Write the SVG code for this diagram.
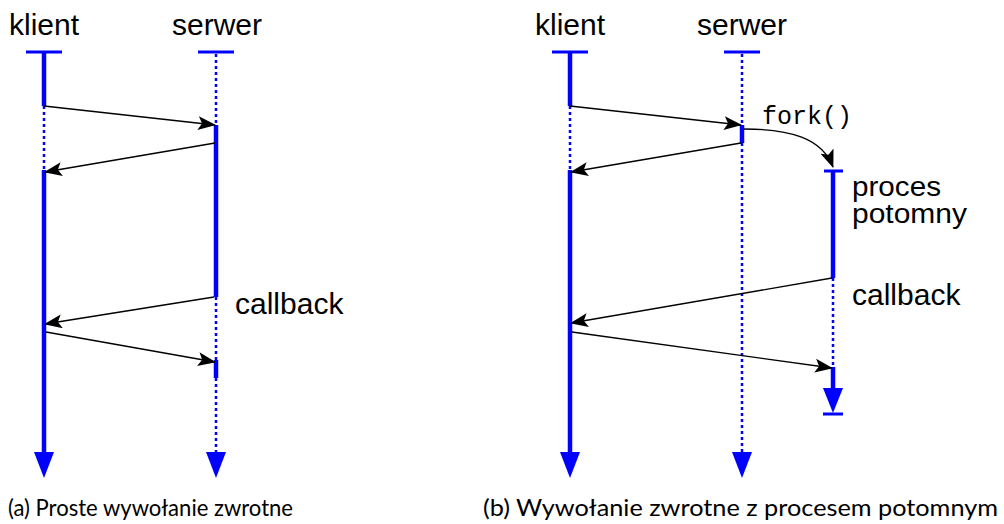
<svg xmlns="http://www.w3.org/2000/svg" width="1004" height="524" viewBox="0 0 1004 524">
<style>
.lbl{font-family:"Liberation Sans",Arial,sans-serif;font-size:30px;fill:#000}
.lbl2{font-family:"Liberation Sans",Arial,sans-serif;font-size:27.5px;fill:#000}
.mono{font-family:"Liberation Mono","Courier New",monospace;font-size:25px;fill:#000}
.cap{font-family:Lato,"Noto Sans",sans-serif;font-size:23px;fill:#000}
.solid{stroke:#0000ff;stroke-width:4.5;fill:none}
.dot{stroke:#0000ff;stroke-width:2.5;stroke-dasharray:3 3;fill:none}
.bar{stroke:#0000ff;stroke-width:3;fill:none}
.msg{stroke:#000;stroke-width:1.3;fill:none;marker-end:url(#ah)}
.head{fill:#0000ff}
</style>
<defs>
<marker id="ah" markerWidth="18" markerHeight="14" refX="17" refY="7" orient="auto" markerUnits="userSpaceOnUse">
<path d="M0,0 L18,7 L0,14 L4,7 Z" fill="#000"/>
</marker>
</defs>
<rect width="1004" height="524" fill="#fff"/>

<!-- Left diagram -->
<g id="a-klient">
<text class="lbl" x="9" y="35">klient</text>
<line class="bar" x1="26" y1="52" x2="62" y2="52"/>
<line class="solid" x1="44" y1="52" x2="44" y2="106"/>
<line class="dot" x1="44" y1="106" x2="44" y2="170"/>
<line class="solid" x1="44" y1="170" x2="44" y2="454"/>
<path class="head" d="M34,452 L54,452 L44,478 Z"/>
</g>
<g id="a-serwer">
<text class="lbl" x="172" y="35">serwer</text>
<line class="bar" x1="198" y1="52" x2="234" y2="52"/>
<line class="dot" x1="216" y1="54" x2="216" y2="125"/>
<line class="solid" x1="216" y1="125" x2="216" y2="297"/>
<line class="dot" x1="216" y1="297" x2="216" y2="360"/>
<line class="solid" x1="216" y1="360" x2="216" y2="378"/>
<line class="dot" x1="216" y1="378" x2="216" y2="454"/>
<path class="head" d="M206,452 L226,452 L216,478 Z"/>
<text class="lbl" x="235" y="314">callback</text>
</g>
<g id="a-connectors">
<line class="msg" x1="44" y1="106" x2="215" y2="125"/>
<line class="msg" x1="215" y1="143" x2="45" y2="172"/>
<line class="msg" x1="214" y1="297" x2="45" y2="324"/>
<line class="msg" x1="46" y1="332" x2="215" y2="362"/>
</g>
<text id="cap-a" class="cap" x="8" y="516" textLength="285" lengthAdjust="spacingAndGlyphs">(a) Proste wywołanie zwrotne</text>

<!-- Right diagram -->
<g id="b-klient">
<text class="lbl" x="535" y="35">klient</text>
<line class="bar" x1="552" y1="52" x2="588" y2="52"/>
<line class="solid" x1="570" y1="52" x2="570" y2="106"/>
<line class="dot" x1="570" y1="106" x2="570" y2="170"/>
<line class="solid" x1="570" y1="170" x2="570" y2="454"/>
<path class="head" d="M560,452 L580,452 L570,478 Z"/>
</g>
<g id="b-serwer">
<text class="lbl" x="697" y="35">serwer</text>
<line class="bar" x1="724" y1="52" x2="760" y2="52"/>
<line class="dot" x1="742" y1="54" x2="742" y2="125"/>
<line class="solid" x1="742" y1="125" x2="742" y2="143"/>
<line class="dot" x1="742" y1="143" x2="742" y2="454"/>
<path class="head" d="M732,452 L752,452 L742,478 Z"/>
<text class="mono" x="762" y="124">fork()</text>
</g>
<g id="b-potomny">
<line class="bar" x1="824" y1="171" x2="843" y2="171"/>
<line class="solid" x1="833" y1="171" x2="833" y2="278"/>
<line class="dot" x1="833" y1="278" x2="833" y2="367"/>
<line class="solid" x1="833" y1="367" x2="833" y2="390"/>
<path class="head" d="M823,388 L843,388 L833,413 Z"/>
<line class="bar" x1="823" y1="414" x2="843" y2="414"/>
<text class="lbl2" x="852" y="196" textLength="89" lengthAdjust="spacingAndGlyphs">proces</text>
<text class="lbl2" x="852" y="223" textLength="115" lengthAdjust="spacingAndGlyphs">potomny</text>
<text class="lbl" x="852" y="305">callback</text>
</g>
<g id="b-connectors">
<line class="msg" x1="570" y1="106" x2="741" y2="125"/>
<line class="msg" x1="741" y1="143" x2="571" y2="172"/>
<path class="msg" d="M744,129 C790,129 822,138 833,167"/>
<line class="msg" x1="832" y1="278" x2="571" y2="323"/>
<line class="msg" x1="572" y1="332" x2="832" y2="368"/>
</g>
<text id="cap-b" class="cap" x="483" y="516" textLength="515" lengthAdjust="spacingAndGlyphs">(b) Wywołanie zwrotne z procesem potomnym</text>
</svg>
